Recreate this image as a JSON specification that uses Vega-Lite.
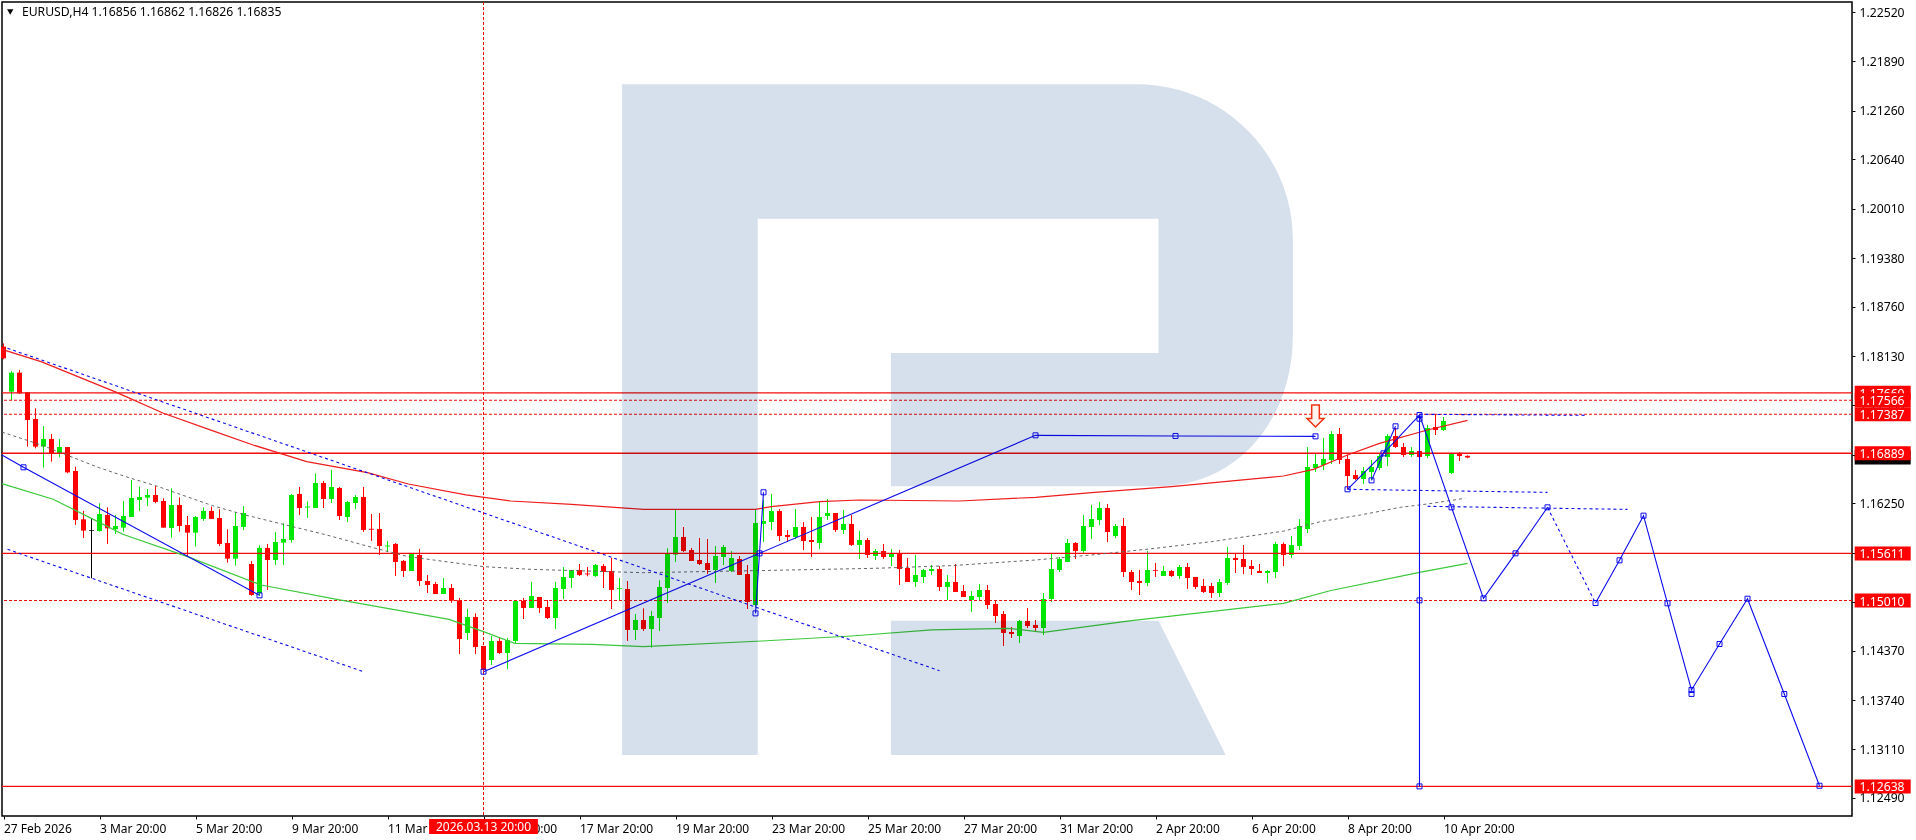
{"$schema":"https://vega.github.io/schema/vega-lite/v6.json","width":1850,"height":814,"autosize":{"type":"none"},"padding":{"left":2,"top":2,"right":64,"bottom":24},"background":"#ffffff","view":{"stroke":"#000000","strokeWidth":1.5,"fill":null},"config":{"font":"Noto Sans"},"datasets":{
"candles":[
{"i":0,"o":1.1825,"h":1.18292,"l":1.18088,"c":1.18101,"d":"d"},{"i":1,"o":1.17676,"h":1.17939,"l":1.17569,"c":1.17918,"d":"u"},{"i":2,"o":1.17918,"h":1.17952,"l":1.17646,"c":1.17654,"d":"d"},{"i":3,"o":1.17667,"h":1.17667,"l":1.16974,"c":1.17314,"d":"d"},{"i":4,"o":1.17327,"h":1.17463,"l":1.16952,"c":1.16974,"d":"d"},{"i":5,"o":1.16974,"h":1.17237,"l":1.16706,"c":1.17072,"d":"u"},{"i":6,"o":1.17072,"h":1.17135,"l":1.16782,"c":1.16889,"d":"d"},{"i":7,"o":1.16889,"h":1.17072,"l":1.16838,"c":1.16969,"d":"u"},{"i":8,"o":1.16969,"h":1.16969,"l":1.16633,"c":1.16646,"d":"d"},{"i":9,"o":1.16663,"h":1.16718,"l":1.15974,"c":1.16038,"d":"d"},
{"i":10,"o":1.16046,"h":1.16153,"l":1.15808,"c":1.15902,"d":"d"},{"i":11,"o":1.1591,"h":1.16059,"l":1.15293,"c":1.159,"d":"n"},{"i":12,"o":1.15897,"h":1.16251,"l":1.15889,"c":1.16114,"d":"u"},{"i":13,"o":1.16102,"h":1.16199,"l":1.15732,"c":1.15931,"d":"d"},{"i":14,"o":1.15919,"h":1.16102,"l":1.15859,"c":1.15961,"d":"u"},{"i":15,"o":1.1594,"h":1.1628,"l":1.15889,"c":1.16089,"d":"u"},{"i":16,"o":1.16076,"h":1.16548,"l":1.16076,"c":1.16319,"d":"u"},{"i":17,"o":1.16293,"h":1.16463,"l":1.16153,"c":1.16331,"d":"u"},{"i":18,"o":1.16323,"h":1.16433,"l":1.16216,"c":1.16357,"d":"u"},{"i":19,"o":1.16357,"h":1.16472,"l":1.16251,"c":1.16268,"d":"d"},
{"i":20,"o":1.1628,"h":1.16314,"l":1.1594,"c":1.1594,"d":"d"},{"i":21,"o":1.15936,"h":1.16442,"l":1.15812,"c":1.16229,"d":"u"},{"i":22,"o":1.16229,"h":1.16327,"l":1.15889,"c":1.15961,"d":"d"},{"i":23,"o":1.15974,"h":1.16089,"l":1.1557,"c":1.15876,"d":"d"},{"i":24,"o":1.15876,"h":1.16089,"l":1.15698,"c":1.16076,"d":"u"},{"i":25,"o":1.16051,"h":1.16199,"l":1.16025,"c":1.16153,"d":"u"},{"i":26,"o":1.16153,"h":1.16208,"l":1.16051,"c":1.16051,"d":"d"},{"i":27,"o":1.16063,"h":1.16174,"l":1.15706,"c":1.15732,"d":"d"},{"i":28,"o":1.15744,"h":1.15919,"l":1.15493,"c":1.15544,"d":"d"},{"i":29,"o":1.15544,"h":1.16131,"l":1.15455,"c":1.15961,"d":"u"},
{"i":30,"o":1.15949,"h":1.16216,"l":1.1591,"c":1.16127,"d":"u"},{"i":31,"o":1.15476,"h":1.15515,"l":1.15072,"c":1.15081,"d":"d"},{"i":32,"o":1.15102,"h":1.15715,"l":1.15068,"c":1.15681,"d":"u"},{"i":33,"o":1.15681,"h":1.15732,"l":1.15145,"c":1.15527,"d":"d"},{"i":34,"o":1.15527,"h":1.15885,"l":1.15464,"c":1.15757,"d":"u"},{"i":35,"o":1.15749,"h":1.15995,"l":1.15464,"c":1.15795,"d":"u"},{"i":36,"o":1.15783,"h":1.1637,"l":1.15749,"c":1.16357,"d":"u"},{"i":37,"o":1.1637,"h":1.16459,"l":1.16102,"c":1.16191,"d":"d"},{"i":38,"o":1.16198,"h":1.16276,"l":1.16063,"c":1.1621,"d":"u"},{"i":39,"o":1.16191,"h":1.16633,"l":1.16191,"c":1.1651,"d":"u"},
{"i":40,"o":1.1651,"h":1.16536,"l":1.16191,"c":1.16306,"d":"d"},{"i":41,"o":1.16306,"h":1.16676,"l":1.16255,"c":1.16459,"d":"u"},{"i":42,"o":1.16446,"h":1.16459,"l":1.16038,"c":1.16089,"d":"d"},{"i":43,"o":1.16076,"h":1.1628,"l":1.16012,"c":1.16268,"d":"u"},{"i":44,"o":1.16255,"h":1.16357,"l":1.16178,"c":1.16331,"d":"u"},{"i":45,"o":1.16331,"h":1.16459,"l":1.15885,"c":1.1591,"d":"d"},{"i":46,"o":1.15925,"h":1.16114,"l":1.1577,"c":1.15913,"d":"d"},{"i":47,"o":1.15923,"h":1.16127,"l":1.15591,"c":1.15706,"d":"d"},{"i":48,"o":1.157,"h":1.1577,"l":1.15629,"c":1.15712,"d":"u"},{"i":49,"o":1.15732,"h":1.15744,"l":1.15323,"c":1.15502,"d":"d"},
{"i":50,"o":1.15515,"h":1.15527,"l":1.1531,"c":1.15387,"d":"d"},{"i":51,"o":1.15387,"h":1.15604,"l":1.15387,"c":1.15604,"d":"u"},{"i":52,"o":1.15591,"h":1.15668,"l":1.15196,"c":1.15259,"d":"d"},{"i":53,"o":1.15259,"h":1.15335,"l":1.15106,"c":1.15208,"d":"d"},{"i":54,"o":1.15221,"h":1.15247,"l":1.15093,"c":1.15093,"d":"d"},{"i":55,"o":1.15093,"h":1.15298,"l":1.15093,"c":1.1517,"d":"u"},{"i":56,"o":1.1517,"h":1.15221,"l":1.14979,"c":1.15008,"d":"d"},{"i":57,"o":1.15013,"h":1.15042,"l":1.14328,"c":1.14519,"d":"d"},{"i":58,"o":1.14596,"h":1.14902,"l":1.14506,"c":1.148,"d":"u"},{"i":59,"o":1.148,"h":1.14847,"l":1.14328,"c":1.14417,"d":"d"},
{"i":60,"o":1.1443,"h":1.1443,"l":1.14102,"c":1.14124,"d":"d"},{"i":61,"o":1.14251,"h":1.14557,"l":1.14187,"c":1.14494,"d":"u"},{"i":62,"o":1.14494,"h":1.1454,"l":1.14328,"c":1.1434,"d":"d"},{"i":63,"o":1.1434,"h":1.14532,"l":1.14136,"c":1.14506,"d":"u"},{"i":64,"o":1.14494,"h":1.15004,"l":1.14455,"c":1.15004,"d":"u"},{"i":65,"o":1.15004,"h":1.15042,"l":1.14774,"c":1.14915,"d":"d"},{"i":66,"o":1.14915,"h":1.15247,"l":1.14915,"c":1.15068,"d":"u"},{"i":67,"o":1.15055,"h":1.15055,"l":1.14851,"c":1.14915,"d":"d"},{"i":68,"o":1.14928,"h":1.15017,"l":1.14774,"c":1.14787,"d":"d"},{"i":69,"o":1.14787,"h":1.15247,"l":1.14647,"c":1.1517,"d":"u"},
{"i":70,"o":1.15157,"h":1.15438,"l":1.1503,"c":1.1531,"d":"u"},{"i":71,"o":1.15298,"h":1.154,"l":1.1517,"c":1.154,"d":"u"},{"i":72,"o":1.154,"h":1.15476,"l":1.15323,"c":1.15335,"d":"d"},{"i":73,"o":1.15355,"h":1.15438,"l":1.15319,"c":1.15343,"d":"d"},{"i":74,"o":1.15323,"h":1.15476,"l":1.1531,"c":1.15464,"d":"u"},{"i":75,"o":1.15451,"h":1.15476,"l":1.1517,"c":1.15374,"d":"d"},{"i":76,"o":1.15387,"h":1.15553,"l":1.14902,"c":1.15145,"d":"d"},{"i":77,"o":1.15156,"h":1.15298,"l":1.15017,"c":1.15168,"d":"u"},{"i":78,"o":1.15157,"h":1.15259,"l":1.14494,"c":1.14634,"d":"d"},{"i":79,"o":1.14634,"h":1.14838,"l":1.14506,"c":1.14762,"d":"u"},
{"i":80,"o":1.14761,"h":1.1491,"l":1.14621,"c":1.14646,"d":"d"},{"i":81,"o":1.14646,"h":1.14876,"l":1.14408,"c":1.14812,"d":"u"},{"i":82,"o":1.14787,"h":1.15268,"l":1.14621,"c":1.15183,"d":"u"},{"i":83,"o":1.1517,"h":1.15676,"l":1.14978,"c":1.15608,"d":"u"},{"i":84,"o":1.15595,"h":1.16165,"l":1.15502,"c":1.15821,"d":"u"},{"i":85,"o":1.15821,"h":1.15948,"l":1.15629,"c":1.15642,"d":"d"},{"i":86,"o":1.15655,"h":1.1568,"l":1.15514,"c":1.15514,"d":"d"},{"i":87,"o":1.15527,"h":1.15808,"l":1.15463,"c":1.15476,"d":"d"},{"i":88,"o":1.15489,"h":1.15795,"l":1.15348,"c":1.15399,"d":"d"},{"i":89,"o":1.15399,"h":1.15706,"l":1.15234,"c":1.15578,"d":"u"},
{"i":90,"o":1.15565,"h":1.15719,"l":1.15463,"c":1.15693,"d":"u"},{"i":91,"o":1.15387,"h":1.15642,"l":1.15374,"c":1.15553,"d":"u"},{"i":92,"o":1.1554,"h":1.15578,"l":1.15336,"c":1.15336,"d":"d"},{"i":93,"o":1.15348,"h":1.15463,"l":1.14902,"c":1.14991,"d":"d"},{"i":94,"o":1.14953,"h":1.16165,"l":1.14932,"c":1.15999,"d":"u"},{"i":95,"o":1.15987,"h":1.16293,"l":1.15757,"c":1.16025,"d":"u"},{"i":96,"o":1.16012,"h":1.16369,"l":1.1591,"c":1.16152,"d":"u"},{"i":97,"o":1.16152,"h":1.16178,"l":1.1577,"c":1.15833,"d":"d"},{"i":98,"o":1.15846,"h":1.1591,"l":1.15757,"c":1.15821,"d":"d"},{"i":99,"o":1.15821,"h":1.16178,"l":1.15795,"c":1.15948,"d":"u"},
{"i":100,"o":1.15948,"h":1.16012,"l":1.15655,"c":1.1577,"d":"d"},{"i":101,"o":1.15782,"h":1.16076,"l":1.15565,"c":1.15757,"d":"d"},{"i":102,"o":1.15744,"h":1.1628,"l":1.15667,"c":1.16076,"d":"u"},{"i":103,"o":1.16089,"h":1.16306,"l":1.16038,"c":1.16127,"d":"u"},{"i":104,"o":1.16127,"h":1.16127,"l":1.15884,"c":1.1591,"d":"d"},{"i":105,"o":1.1591,"h":1.16165,"l":1.15859,"c":1.15987,"d":"u"},{"i":106,"o":1.15987,"h":1.16101,"l":1.15706,"c":1.15719,"d":"d"},{"i":107,"o":1.15719,"h":1.15897,"l":1.1554,"c":1.15782,"d":"u"},{"i":108,"o":1.15782,"h":1.15808,"l":1.15553,"c":1.15591,"d":"d"},{"i":109,"o":1.15578,"h":1.15667,"l":1.15527,"c":1.15642,"d":"u"},
{"i":110,"o":1.15642,"h":1.15731,"l":1.1554,"c":1.15565,"d":"d"},{"i":111,"o":1.15565,"h":1.15667,"l":1.1545,"c":1.15616,"d":"u"},{"i":112,"o":1.15616,"h":1.15655,"l":1.15208,"c":1.15412,"d":"d"},{"i":113,"o":1.15425,"h":1.15553,"l":1.15246,"c":1.15246,"d":"d"},{"i":114,"o":1.15246,"h":1.15591,"l":1.15183,"c":1.15336,"d":"u"},{"i":115,"o":1.1531,"h":1.15412,"l":1.15234,"c":1.15399,"d":"u"},{"i":116,"o":1.15387,"h":1.15463,"l":1.15336,"c":1.15412,"d":"u"},{"i":117,"o":1.15412,"h":1.1545,"l":1.15131,"c":1.15183,"d":"d"},{"i":118,"o":1.15183,"h":1.15336,"l":1.15017,"c":1.15246,"d":"u"},{"i":119,"o":1.15246,"h":1.15476,"l":1.15119,"c":1.15119,"d":"d"},
{"i":120,"o":1.15131,"h":1.15208,"l":1.15055,"c":1.15055,"d":"d"},{"i":121,"o":1.15017,"h":1.15131,"l":1.14863,"c":1.15068,"d":"u"},{"i":122,"o":1.15055,"h":1.15221,"l":1.15004,"c":1.15144,"d":"u"},{"i":123,"o":1.15144,"h":1.15208,"l":1.14902,"c":1.14953,"d":"d"},{"i":124,"o":1.14966,"h":1.15017,"l":1.14723,"c":1.14812,"d":"d"},{"i":125,"o":1.14838,"h":1.14876,"l":1.1443,"c":1.14595,"d":"d"},{"i":126,"o":1.14608,"h":1.14672,"l":1.14532,"c":1.14583,"d":"d"},{"i":127,"o":1.14557,"h":1.14761,"l":1.14468,"c":1.14749,"d":"u"},{"i":128,"o":1.14749,"h":1.14915,"l":1.14659,"c":1.14685,"d":"d"},{"i":129,"o":1.14698,"h":1.14761,"l":1.14608,"c":1.14659,"d":"d"},
{"i":130,"o":1.14659,"h":1.15106,"l":1.14569,"c":1.15029,"d":"u"},{"i":131,"o":1.15029,"h":1.15616,"l":1.14991,"c":1.15412,"d":"u"},{"i":132,"o":1.15399,"h":1.15565,"l":1.15374,"c":1.1554,"d":"u"},{"i":133,"o":1.15502,"h":1.15795,"l":1.15502,"c":1.15744,"d":"u"},{"i":134,"o":1.15744,"h":1.15757,"l":1.1554,"c":1.15642,"d":"d"},{"i":135,"o":1.15642,"h":1.16101,"l":1.15616,"c":1.15961,"d":"u"},{"i":136,"o":1.15948,"h":1.16229,"l":1.15795,"c":1.1605,"d":"u"},{"i":137,"o":1.16038,"h":1.16267,"l":1.15974,"c":1.16191,"d":"u"},{"i":138,"o":1.16191,"h":1.16242,"l":1.15757,"c":1.15884,"d":"d"},{"i":139,"o":1.15833,"h":1.15987,"l":1.15808,"c":1.15961,"d":"u"},
{"i":140,"o":1.15961,"h":1.16063,"l":1.1531,"c":1.15374,"d":"d"},{"i":141,"o":1.15374,"h":1.15399,"l":1.15144,"c":1.15246,"d":"d"},{"i":142,"o":1.15259,"h":1.15399,"l":1.1508,"c":1.15234,"d":"d"},{"i":143,"o":1.15234,"h":1.15642,"l":1.15195,"c":1.15399,"d":"u"},{"i":144,"o":1.154,"h":1.15489,"l":1.1531,"c":1.15389,"d":"d"},{"i":145,"o":1.15323,"h":1.1545,"l":1.15323,"c":1.15387,"d":"u"},{"i":146,"o":1.15387,"h":1.15399,"l":1.1531,"c":1.15323,"d":"d"},{"i":147,"o":1.15323,"h":1.15463,"l":1.15285,"c":1.15438,"d":"u"},{"i":148,"o":1.15438,"h":1.15489,"l":1.15157,"c":1.15297,"d":"d"},{"i":149,"o":1.1531,"h":1.1531,"l":1.15157,"c":1.15183,"d":"d"},
{"i":150,"o":1.15195,"h":1.15285,"l":1.15106,"c":1.15119,"d":"d"},{"i":151,"o":1.15195,"h":1.15234,"l":1.15042,"c":1.15106,"d":"d"},{"i":152,"o":1.15106,"h":1.15285,"l":1.15055,"c":1.15246,"d":"u"},{"i":153,"o":1.15234,"h":1.15693,"l":1.15208,"c":1.15553,"d":"u"},{"i":154,"o":1.15553,"h":1.15604,"l":1.15361,"c":1.15527,"d":"d"},{"i":155,"o":1.1554,"h":1.15719,"l":1.15348,"c":1.15438,"d":"d"},{"i":156,"o":1.1545,"h":1.15527,"l":1.15336,"c":1.15412,"d":"d"},{"i":157,"o":1.15387,"h":1.15476,"l":1.15361,"c":1.15361,"d":"d"},{"i":158,"o":1.15361,"h":1.15399,"l":1.15234,"c":1.15387,"d":"u"},{"i":159,"o":1.15374,"h":1.15757,"l":1.15297,"c":1.15731,"d":"u"},
{"i":160,"o":1.15731,"h":1.15752,"l":1.1545,"c":1.15591,"d":"d"},{"i":161,"o":1.15591,"h":1.15833,"l":1.15552,"c":1.15718,"d":"u"},{"i":162,"o":1.15705,"h":1.1605,"l":1.15654,"c":1.15961,"d":"u"},{"i":163,"o":1.15922,"h":1.16969,"l":1.15871,"c":1.16714,"d":"u"},{"i":164,"o":1.16701,"h":1.1688,"l":1.1665,"c":1.16752,"d":"u"},{"i":165,"o":1.16739,"h":1.17084,"l":1.16675,"c":1.16816,"d":"u"},{"i":166,"o":1.16803,"h":1.17173,"l":1.16752,"c":1.17135,"d":"u"},{"i":167,"o":1.17135,"h":1.17211,"l":1.16752,"c":1.16803,"d":"d"},{"i":168,"o":1.16816,"h":1.16867,"l":1.16433,"c":1.16599,"d":"d"},{"i":169,"o":1.16612,"h":1.16675,"l":1.16548,"c":1.16561,"d":"d"},
{"i":170,"o":1.16561,"h":1.16714,"l":1.16497,"c":1.16663,"d":"u"},{"i":171,"o":1.1665,"h":1.16803,"l":1.16548,"c":1.16714,"d":"u"},{"i":172,"o":1.16701,"h":1.1688,"l":1.16675,"c":1.16854,"d":"u"},{"i":173,"o":1.16841,"h":1.17135,"l":1.16726,"c":1.17109,"d":"u"},{"i":174,"o":1.17109,"h":1.17211,"l":1.16956,"c":1.16969,"d":"d"},{"i":175,"o":1.16969,"h":1.1702,"l":1.16841,"c":1.16867,"d":"d"},{"i":176,"o":1.16867,"h":1.16969,"l":1.16841,"c":1.16918,"d":"u"},{"i":177,"o":1.16918,"h":1.16943,"l":1.16841,"c":1.16841,"d":"d"},{"i":178,"o":1.16854,"h":1.1725,"l":1.16829,"c":1.17211,"d":"u"},{"i":179,"o":1.17224,"h":1.1739,"l":1.17122,"c":1.17186,"d":"d"},
{"i":180,"o":1.17186,"h":1.17352,"l":1.17173,"c":1.17301,"d":"u"},{"i":181,"o":1.16637,"h":1.16892,"l":1.16624,"c":1.1688,"d":"u"},{"i":182,"o":1.16892,"h":1.16905,"l":1.1679,"c":1.16854,"d":"d"},{"i":183,"o":1.16856,"h":1.16862,"l":1.16826,"c":1.16835,"d":"d"}],
"ma":[
{"s":"red","i":-0.2,"p":1.18215},{"s":"red","i":4.7,"p":1.18058},{"s":"red","i":9.3,"p":1.17867},{"s":"red","i":13.9,"p":1.17676},{"s":"red","i":20,"p":1.17399},{"s":"red","i":26.1,"p":1.17178},{"s":"red","i":31.2,"p":1.16995},{"s":"red","i":37.9,"p":1.16782},{"s":"red","i":45.5,"p":1.16642},{"s":"red","i":50.6,"p":1.16497},{"s":"red","i":57.8,"p":1.16357},{"s":"red","i":63.4,"p":1.1628},{"s":"red","i":71,"p":1.16238},{"s":"red","i":80,"p":1.16174},{"s":"red","i":94,"p":1.16174},{"s":"red","i":96,"p":1.16208},{"s":"red","i":102,"p":1.16272},{"s":"red","i":107,"p":1.16293},{"s":"red","i":119.5,"p":1.1628},{"s":"red","i":129,"p":1.16327},{"s":"red","i":136,"p":1.16386},{"s":"red","i":146,"p":1.16463},{"s":"red","i":160,"p":1.16599},{"s":"red","i":163.75,"p":1.16684},{"s":"red","i":168,"p":1.16867},{"s":"red","i":172,"p":1.17016},{"s":"red","i":178,"p":1.17186},{"s":"red","i":183,"p":1.17309},
{"s":"green","i":-0.2,"p":1.16501},{"s":"green","i":6.2,"p":1.16302},{"s":"green","i":11.8,"p":1.16017},{"s":"green","i":14.9,"p":1.15855},{"s":"green","i":23,"p":1.1557},{"s":"green","i":32.2,"p":1.15208},{"s":"green","i":42,"p":1.15017},{"s":"green","i":55.7,"p":1.1477},{"s":"green","i":60,"p":1.14613},{"s":"green","i":63.9,"p":1.14464},{"s":"green","i":73.6,"p":1.14451},{"s":"green","i":80,"p":1.14421},{"s":"green","i":94.8,"p":1.14493},{"s":"green","i":106,"p":1.14557},{"s":"green","i":116,"p":1.14634},{"s":"green","i":125.6,"p":1.14655},{"s":"green","i":130,"p":1.14604},{"s":"green","i":141,"p":1.14753},{"s":"green","i":160,"p":1.14974},{"s":"green","i":165.8,"p":1.15135},{"s":"green","i":177,"p":1.15369},{"s":"green","i":183,"p":1.15484}],
"gray":[{"i":-0.2,"p":1.1716},{"i":4.7,"p":1.16995},{"i":11.8,"p":1.1671},{"i":15.9,"p":1.1657},{"i":19,"p":1.16476},{"i":26.1,"p":1.16221},{"i":30.2,"p":1.16102},{"i":35.3,"p":1.15974},{"i":40.4,"p":1.15846},{"i":46.5,"p":1.15676},{"i":50.6,"p":1.1557},{"i":60,"p":1.15442},{"i":65.9,"p":1.15408},{"i":80,"p":1.15365},{"i":94,"p":1.15391},{"i":109,"p":1.15421},{"i":118.5,"p":1.15455},{"i":129,"p":1.15527},{"i":136,"p":1.15591},{"i":144,"p":1.15676},{"i":151,"p":1.15761},{"i":160,"p":1.15895},{"i":164.6,"p":1.16016},{"i":169.6,"p":1.16101},{"i":174.6,"p":1.16199},{"i":178,"p":1.16242},{"i":182.7,"p":1.16314}],
"solid":[
{"s":"a","i":-0.2,"p":1.16866},{"s":"a","i":2.5,"p":1.1671},{"s":"a","i":32,"p":1.15076},
{"s":"b","i":60,"p":1.14102},{"s":"b","i":94.5,"p":1.15612},{"s":"b","i":129,"p":1.17118},{"s":"b","i":146.5,"p":1.1711},{"s":"b","i":164,"p":1.17105},
{"s":"c","i":94,"p":1.14846},{"s":"c","i":94.5,"p":1.15612},{"s":"c","i":95,"p":1.16391},
{"s":"d","i":168,"p":1.16429},{"s":"d","i":172.5,"p":1.16888},{"s":"d","i":177,"p":1.17377},
{"s":"e","i":171,"p":1.16543},{"s":"e","i":172.5,"p":1.16888},{"s":"e","i":174,"p":1.17233},
{"s":"f","i":177,"p":1.17377},{"s":"f","i":177,"p":1.12638},
{"s":"g","i":177,"p":1.17377},{"s":"g","i":181,"p":1.16199},{"s":"g","i":185,"p":1.15038},{"s":"g","i":189,"p":1.15612},{"s":"g","i":193,"p":1.16199},
{"s":"h","i":199,"p":1.14978},{"s":"h","i":202,"p":1.15523},{"s":"h","i":205,"p":1.16093},{"s":"h","i":208,"p":1.14974},{"s":"h","i":211,"p":1.13868},{"s":"h","i":214.5,"p":1.14455},{"s":"h","i":218,"p":1.15033},{"s":"h","i":222.6,"p":1.13817},{"s":"h","i":227,"p":1.12646}],
"dashed":[
{"s":"u","i":0.5,"p":1.18229},{"s":"u","i":117,"p":1.14114},
{"s":"l","i":0.5,"p":1.15663},{"s":"l","i":45,"p":1.14102},
{"s":"m","i":193,"p":1.16199},{"s":"m","i":199,"p":1.14978},
{"s":"n","i":168,"p":1.16429},{"s":"n","i":193,"p":1.1639},
{"s":"o","i":178,"p":1.16212},{"s":"o","i":203,"p":1.16173},
{"s":"q","i":177,"p":1.17386},{"s":"q","i":198,"p":1.17373}],
"squares":[{"i":2.5,"p":1.1671},{"i":32,"p":1.15076},{"i":60,"p":1.14102},{"i":94.5,"p":1.15612},{"i":94,"p":1.14846},{"i":95,"p":1.16391},{"i":129,"p":1.17118},{"i":146.5,"p":1.1711},{"i":164,"p":1.17105},{"i":168,"p":1.16429},{"i":171,"p":1.16543},{"i":172.5,"p":1.16888},{"i":174,"p":1.17233},{"i":177,"p":1.17377},{"i":177,"p":1.1733},{"i":177,"p":1.15012},{"i":177,"p":1.12638},{"i":181,"p":1.16199},{"i":185,"p":1.15038},{"i":189,"p":1.15612},{"i":193,"p":1.16199},{"i":199,"p":1.14978},{"i":202,"p":1.15523},{"i":205,"p":1.16093},{"i":208,"p":1.14974},{"i":211,"p":1.13868},{"i":211,"p":1.13818},{"i":214.5,"p":1.14455},{"i":218,"p":1.15033},{"i":222.6,"p":1.13817},{"i":227,"p":1.12646}],
"levels":[{"p":1.1766,"k":"solid","g":"a","t":"1.17660"},{"p":1.17566,"k":"dash","g":"b","t":"1.17566"},{"p":1.17387,"k":"dash","g":"b","t":"1.17387"},{"p":1.16889,"k":"solid","g":"b","t":"1.16889"},{"p":1.15611,"k":"solid","g":"b","t":"1.15611"},{"p":1.1501,"k":"dash","g":"b","t":"1.15010"},{"p":1.12638,"k":"solid","g":"b","t":"1.12638"}]
},
"layer":[
{"data":{"name":"candles"},"mark":{"type":"rule","strokeWidth":1},"encoding":{"x":{"field":"i","type":"quantitative","scale":{"domain":[-0.1875,231.0625],"nice":false,"zero":false,"padding":0},"axis":{"title":null,"orient":"bottom","grid":false,"domain":false,"values":[0,12,24,36,48,60,72,84,96,108,120,132,144,156,168,180],"labelExpr":"['27 Feb 2026','3 Mar 20:00','5 Mar 20:00','9 Mar 20:00','11 Mar 20:00','13 Mar 20:00','17 Mar 20:00','19 Mar 20:00','23 Mar 20:00','25 Mar 20:00','27 Mar 20:00','31 Mar 20:00','2 Apr 20:00','6 Apr 20:00','8 Apr 20:00','10 Apr 20:00'][datum.value/12]","labelAlign":"left","labelBaseline":"middle","labelPadding":9,"labelOverlap":false,"labelBound":false,"labelFlush":false,"labelFont":"Noto Sans","labelFontSize":12,"labelColor":"#000000","tickColor":"#000000","tickSize":3}},"y":{"field":"l","type":"quantitative","scale":{"domain":[1.1226,1.22648],"nice":false,"zero":false},"axis":{"title":null,"orient":"right","grid":false,"domain":false,"values":[1.2252,1.2189,1.2126,1.2064,1.2001,1.1938,1.1876,1.1813,1.175,1.1687,1.1625,1.1562,1.1499,1.1437,1.1374,1.1311,1.1249],"format":".5f","labelPadding":4,"labelOverlap":false,"labelBound":false,"labelFont":"Noto Sans","labelFontSize":12.2,"labelColor":"#000000","tickColor":"#000000","tickSize":3}},"y2":{"field":"h"},"color":{"field":"d","type":"nominal","scale":{"domain":["u","d","n"],"range":["#00e800","#ff0000","#000000"]},"legend":null}}},
{"data":{"name":"candles"},"mark":{"type":"bar","width":5},"encoding":{"x":{"field":"i","type":"quantitative"},"y":{"field":"o","type":"quantitative"},"y2":{"field":"c"},"color":{"field":"d","type":"nominal","legend":null}}},
{"data":{"name":"levels"},"transform":[{"filter":"datum.k==='solid'"}],"mark":{"type":"rule","color":"#f20d0d","strokeWidth":1.4},"encoding":{"y":{"field":"p","type":"quantitative"}}},
{"data":{"name":"levels"},"transform":[{"filter":"datum.k==='dash'"}],"mark":{"type":"rule","color":"#f20d0d","strokeWidth":1.1,"strokeDash":[3,2]},"encoding":{"y":{"field":"p","type":"quantitative"}}},
{"data":{"values":[{"i":60,"t":"2026.03.13 20:00"}]},"mark":{"type":"rule","color":"#f20d0d","strokeWidth":1,"strokeDash":[3,2]},"encoding":{"x":{"field":"i","type":"quantitative"}}},
{"data":{"name":"ma"},"mark":{"type":"line","strokeWidth":1.2},"encoding":{"x":{"field":"i","type":"quantitative"},"y":{"field":"p","type":"quantitative"},"detail":{"field":"s"},"stroke":{"field":"s","type":"nominal","scale":{"domain":["red","green"],"range":["#ee1c1c","#3cc83c"]},"legend":null}}},
{"data":{"name":"gray"},"mark":{"type":"line","strokeWidth":1,"stroke":"#666666","strokeDash":[3,3]},"encoding":{"x":{"field":"i","type":"quantitative"},"y":{"field":"p","type":"quantitative"}}},
{"data":{"name":"solid"},"mark":{"type":"line","strokeWidth":1.1,"stroke":"#0a0aee"},"encoding":{"x":{"field":"i","type":"quantitative"},"y":{"field":"p","type":"quantitative"},"detail":{"field":"s"}}},
{"data":{"name":"dashed"},"mark":{"type":"line","strokeWidth":1.1,"stroke":"#0a0aee","strokeDash":[3,3]},"encoding":{"x":{"field":"i","type":"quantitative"},"y":{"field":"p","type":"quantitative"},"detail":{"field":"s"}}},
{"data":{"name":"squares"},"mark":{"type":"point","shape":"square","filled":false,"size":25,"stroke":"#0a0aee","strokeWidth":1,"opacity":1},"encoding":{"x":{"field":"i","type":"quantitative"},"y":{"field":"p","type":"quantitative"}}},
{"data":{"values":[{"i":164,"p":1.17365}]},"mark":{"type":"point","shape":"M-0.45,-1.3 L0.45,-1.3 L0.45,0.3 L1,0.3 L0,1.3 L-1,0.3 L-0.45,0.3 Z","filled":true,"fill":"#fff4ee","stroke":"#f03010","strokeWidth":1.5,"size":289,"opacity":1},"encoding":{"x":{"field":"i","type":"quantitative"},"y":{"field":"p","type":"quantitative"}}},
{"data":{"values":[{"i":119.2,"p":1.17314}]},"mark":{"type":"point","shape":"M-3.35,-3.357 L1.794,-3.357 C2.66,-3.357 3.358,-2.66 3.358,-1.8 L3.358,-0.85 C3.358,0 2.8,0.663 2.014,0.663 L-0.662,0.663 L-0.662,-0.669 L2.014,-0.669 L2.014,-2.013 L-1.994,-2.013 L-1.994,3.351 L-3.35,3.351 Z M-0.662,2.007 L2.014,2.007 L2.686,3.351 L-0.662,3.351 Z","filled":true,"fill":"#d6e0ec","size":40000,"opacity":1,"strokeWidth":0,"blend":"multiply"},"encoding":{"x":{"field":"i","type":"quantitative"},"y":{"field":"p","type":"quantitative"}}},
{"data":{"values":[{"p":1.16835,"t":"1.16835"}]},"mark":{"type":"rect","fill":"#000000","height":14,"clip":false},"encoding":{"x":{"datum":231.4},"x2":{"datum":238.4},"y":{"field":"p","type":"quantitative"}}},
{"data":{"name":"levels"},"transform":[{"filter":"datum.g==='a'"}],"mark":{"type":"rect","fill":"#ff0000","height":14,"clip":false},"encoding":{"x":{"datum":231.4},"x2":{"datum":238.4},"y":{"field":"p","type":"quantitative"}}},
{"data":{"name":"levels"},"transform":[{"filter":"datum.g==='a'"}],"mark":{"type":"text","color":"#ffffff","align":"left","baseline":"middle","font":"Noto Sans","fontSize":12.2,"dy":1},"encoding":{"x":{"datum":232},"y":{"field":"p","type":"quantitative"},"text":{"field":"t"}}},
{"data":{"name":"levels"},"transform":[{"filter":"datum.g==='b'"}],"mark":{"type":"rect","fill":"#ff0000","height":14,"clip":false},"encoding":{"x":{"datum":231.4},"x2":{"datum":238.4},"y":{"field":"p","type":"quantitative"}}},
{"data":{"name":"levels"},"transform":[{"filter":"datum.g==='b'"}],"mark":{"type":"text","color":"#ffffff","align":"left","baseline":"middle","font":"Noto Sans","fontSize":12.2,"dy":1},"encoding":{"x":{"datum":232},"y":{"field":"p","type":"quantitative"},"text":{"field":"t"}}},
{"data":{"values":[{"i":60,"t":"2026.03.13 20:00"}]},"mark":{"type":"rect","fill":"#ff0000","clip":false},"encoding":{"x":{"datum":53.2},"x2":{"datum":66.8},"y":{"datum":1.12221},"y2":{"datum":1.1203}}},
{"data":{"values":[{"i":60,"t":"2026.03.13 20:00"}]},"mark":{"type":"text","color":"#ffffff","align":"center","baseline":"middle","font":"Noto Sans","fontSize":12},"encoding":{"x":{"field":"i","type":"quantitative"},"y":{"datum":1.12125},"text":{"field":"t"}}},
{"data":{"values":[{"i":2.3,"p":1.2252,"t":"EURUSD,H4  1.16856 1.16862 1.16826 1.16835"}]},"mark":{"type":"text","color":"#000000","align":"left","baseline":"middle","font":"Noto Sans","fontSize":12.2},"encoding":{"x":{"field":"i","type":"quantitative"},"y":{"field":"p","type":"quantitative"},"text":{"field":"t"}}},
{"data":{"values":[{"i":0.84,"p":1.2252}]},"mark":{"type":"point","shape":"triangle-down","filled":true,"color":"#000000","size":40,"opacity":1},"encoding":{"x":{"field":"i","type":"quantitative"},"y":{"field":"p","type":"quantitative"}}}
]}
